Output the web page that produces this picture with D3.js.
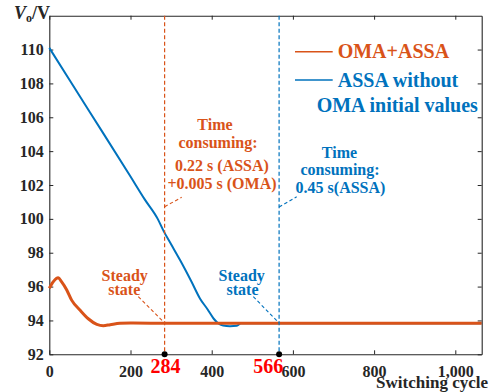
<!DOCTYPE html>
<html><head><meta charset="utf-8">
<script src="https://cdn.jsdelivr.net/npm/d3@7"></script>
<style>
body{margin:0;background:#fff;}
</style></head>
<body><svg id="c" width="498" height="392" font-family="'Liberation Serif', 'DejaVu Serif', serif" font-weight="bold"></svg>
<script>
// Data
const omaCycles = [0, 10, 22, 30, 43, 55, 76, 96, 117, 133, 150, 174, 200, 300, 500, 700, 900, 1065];
const omaValues = [95.9, 96.29, 96.52, 96.29, 95.8, 95.2, 94.6, 94.1, 93.77, 93.69, 93.75, 93.83, 93.85, 93.83, 93.83, 93.83, 93.83, 93.83];
const assaCycles = [0, 100, 200, 235, 267, 282, 300, 322, 350, 371, 390, 405, 415, 428, 445, 462, 472, 500, 700, 1065];
const assaValues = [110.1, 106.3, 102.5, 101.15, 100.0, 99.26, 98.5, 97.57, 96.3, 95.3, 94.65, 94.1, 93.85, 93.7, 93.66, 93.68, 93.83, 93.83, 93.83, 93.83];
const xTicks = [0, 200, 400, 600, 800, 1000];
const yTicks = [92, 94, 96, 98, 100, 102, 104, 106, 108, 110];
const markCycles = [284, 566];
const seriesNames = ["OMA+ASSA", "ASSA without", "OMA initial values"];

const FONT = "'Liberation Serif', 'DejaVu Serif', serif";
const ORANGE = "#D95319", BLUE = "#0072BD", AX = "#262626";
const svg = d3.select("#c");
const L = 49.3, R = 481.7, T = 15.7, B = 354.3;
const x = d3.scaleLinear().domain([0, 1065]).range([L, R]);
const y = d3.scaleLinear().domain([92, 112]).range([B, T]);

function txt(sel) { return sel.attr("font-family", FONT).attr("font-weight", "bold"); }

// axes
const fs = 16;
const gB = svg.append("g").attr("transform", `translate(0,${B})`)
  .call(d3.axisBottom(x).tickValues(xTicks).tickSizeInner(-4).tickSizeOuter(0).tickPadding(8));
const gT = svg.append("g").attr("transform", `translate(0,${T})`)
  .call(d3.axisTop(x).tickValues(xTicks).tickSizeInner(-4).tickSizeOuter(0).tickFormat(""));
const gL = svg.append("g").attr("transform", `translate(${L},0)`)
  .call(d3.axisLeft(y).tickValues(yTicks).tickSizeInner(-4).tickSizeOuter(0).tickPadding(8));
const gR = svg.append("g").attr("transform", `translate(${R},0)`)
  .call(d3.axisRight(y).tickValues(yTicks).tickSizeInner(-4).tickSizeOuter(0).tickFormat(""));
[gB, gT, gL, gR].forEach(g => {
  g.attr("font-family", FONT).attr("font-size", fs).attr("font-weight", "bold");
  g.selectAll("path").attr("stroke", AX).attr("stroke-width", 1.1);
  g.selectAll("line").attr("stroke", AX).attr("stroke-width", 1);
  txt(g.selectAll("text")).attr("fill", AX).attr("font-size", fs);
});
gL.selectAll("text").attr("dx", "0.15em");
gB.selectAll("text").attr("dy", "0.9em");

// lines
const assaData = assaCycles.map((c, i) => [c, assaValues[i]]);
const omaData = omaCycles.map((c, i) => [c, omaValues[i]]);
const smooth = d3.line().x(d => x(d[0])).y(d => y(d[1])).curve(d3.curveMonotoneX);
svg.append("path").attr("d", smooth(assaData)).attr("fill", "none").attr("stroke", BLUE).attr("stroke-width", 2);
svg.append("path").attr("d", smooth(omaData)).attr("fill", "none").attr("stroke", ORANGE).attr("stroke-width", 3);

// vertical dashed lines
const cols = [ORANGE, BLUE];
markCycles.forEach((m, i) => {
  svg.append("line").attr("x1", x(m)).attr("x2", x(m)).attr("y1", T).attr("y2", B)
    .attr("stroke", cols[i]).attr("stroke-width", 1.2).attr("stroke-dasharray", "4,2.5");
});
// connectors
const yFlat = y(93.85);
const conn = [
  [x(284), 206.7, 181.7, 197.3, ORANGE],
  [x(566), 207, 296.7, 196.7, BLUE],
  [138.3, 296.7, x(284), yFlat, ORANGE],
  [253.3, 296.7, x(566), yFlat, BLUE]
];
conn.forEach(c => svg.append("line").attr("x1", c[0]).attr("y1", c[1]).attr("x2", c[2]).attr("y2", c[3])
  .attr("stroke", c[4]).attr("stroke-width", 1.1).attr("stroke-dasharray", "3.5,2.5"));

// dots and red labels
markCycles.forEach((m, i) => {
  svg.append("circle").attr("cx", x(m)).attr("cy", B).attr("r", 3).attr("fill", "#000");
});
txt(svg.append("text")).attr("x", x(284) + 0.8).attr("y", 373.3).attr("text-anchor", "middle")
  .attr("fill", "#FF0000").attr("font-size", 20).text(String(markCycles[0]));
txt(svg.append("text")).attr("x", 283.3).attr("y", 373.3).attr("text-anchor", "end")
  .attr("fill", "#FF0000").attr("font-size", 20).text(String(markCycles[1]));

// axis titles
txt(svg.append("text")).attr("x", 488).attr("y", 387.5).attr("text-anchor", "end").attr("fill", AX)
  .attr("font-size", 17).text("Switching cycle");
const yl = txt(svg.append("text")).attr("x", 14).attr("y", 19).attr("fill", AX).attr("font-size", 18);
yl.append("tspan").attr("font-style", "italic").text("V");
yl.append("tspan").attr("dy", 3).attr("font-size", 12).text("o");
yl.append("tspan").attr("dy", -3).text("/V");

// legend
svg.append("line").attr("x1", 295).attr("x2", 332.7).attr("y1", 51.7).attr("y2", 51.7).attr("stroke", ORANGE).attr("stroke-width", 1.5);
svg.append("line").attr("x1", 295).attr("x2", 332.7).attr("y1", 80).attr("y2", 80).attr("stroke", BLUE).attr("stroke-width", 1.5);
txt(svg.append("text")).attr("x", 337.7).attr("y", 58).attr("fill", ORANGE).attr("font-size", 20).text(seriesNames[0]);
txt(svg.append("text")).attr("x", 337.7).attr("y", 86.5).attr("fill", BLUE).attr("font-size", 20).text(seriesNames[1]);
txt(svg.append("text")).attr("x", 316.7).attr("y", 112).attr("fill", BLUE).attr("font-size", 20).text(seriesNames[2]);

// annotations
function block(lines, color) {
  lines.forEach(l => txt(svg.append("text")).attr("x", l[0]).attr("y", l[1]).attr("text-anchor", "middle")
    .attr("fill", color).attr("font-size", 16).text(l[2]));
}
block([[215, 130, "Time"], [218, 147.5, "consuming:"], [222, 171, "0.22 s (ASSA)"], [222, 189, "+0.005 s (OMA)"]], ORANGE);
block([[339.5, 158.3, "Time"], [340, 175, "consuming:"], [340.5, 193, "0.45 s(ASSA)"]], BLUE);
block([[124.7, 281, "Steady"], [124.3, 295, "state"]], ORANGE);
block([[241.7, 281, "Steady"], [242.5, 295, "state"]], BLUE);
</script></body></html>
